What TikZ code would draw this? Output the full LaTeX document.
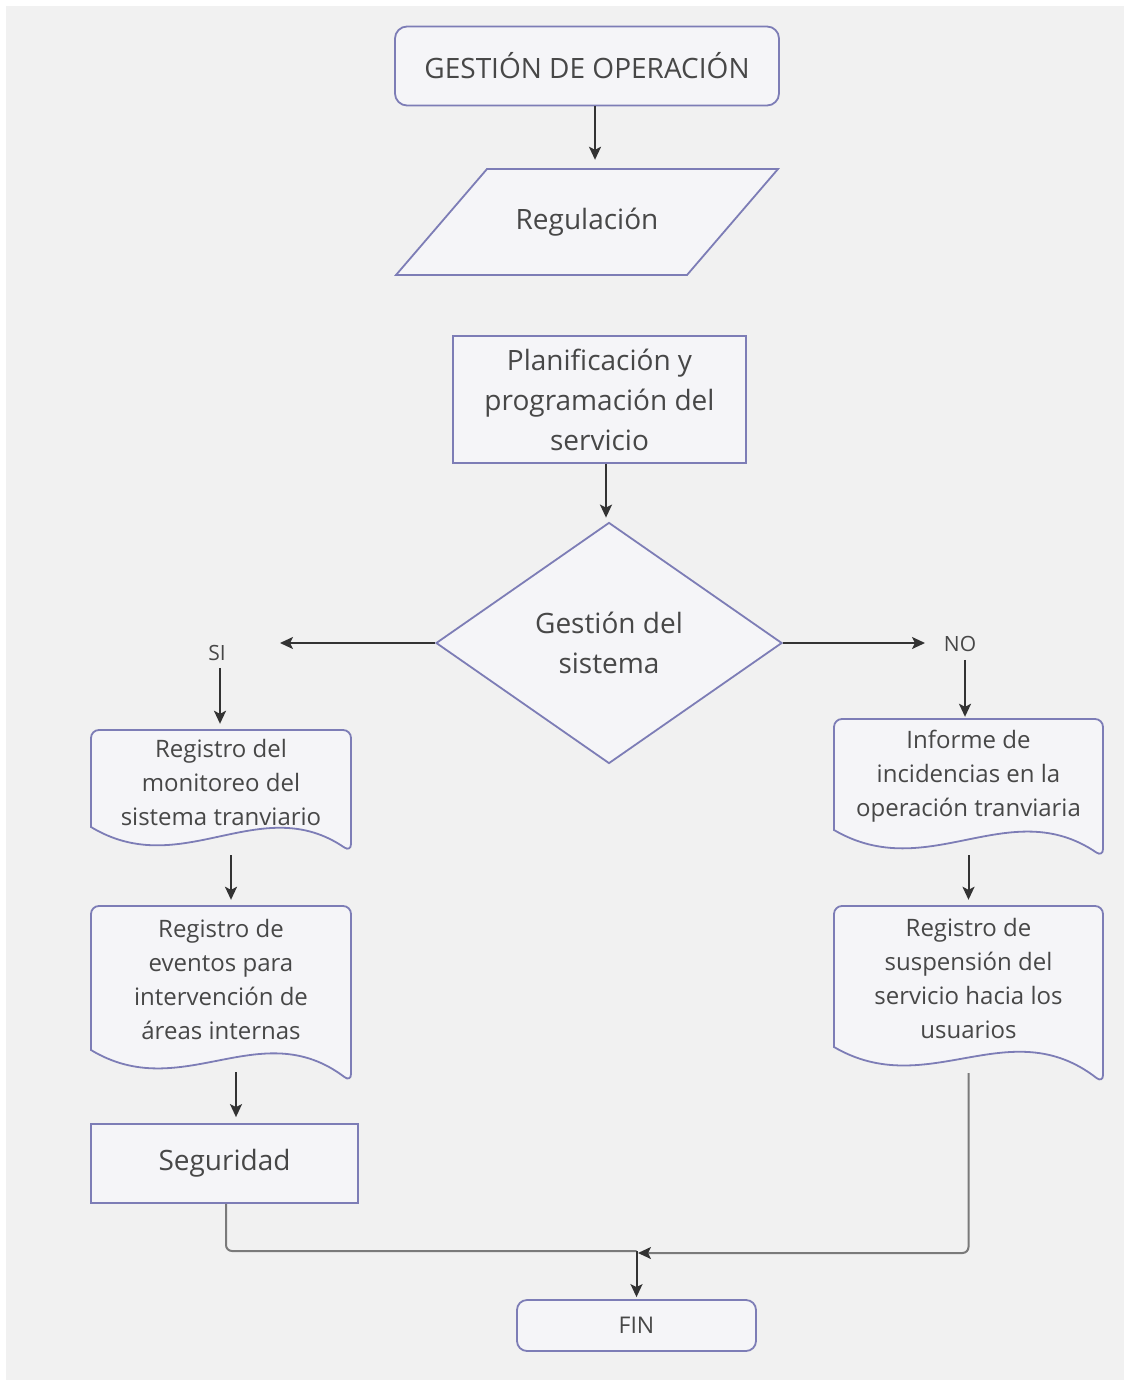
\documentclass[tikz,border=0pt]{standalone}
\usepackage{fontspec}
\setmainfont{Open Sans}
\usetikzlibrary{arrows.meta,shapes.geometric}
\definecolor{bg}{HTML}{F1F1F1}
\definecolor{edge}{RGB}{125,125,182}
\definecolor{boxfill}{HTML}{F5F5F8}
\definecolor{txt}{HTML}{474747}
\definecolor{arrowc}{HTML}{333333}
\definecolor{joinc}{HTML}{7A7A7A}
\tikzset{
  shp/.style={draw=edge, fill=boxfill, line width=1.8pt},
  bigtext/.style={text=txt, font=\fontsize{28}{40}\selectfont, align=center},
  doctext/.style={text=txt, font=\fontsize{24}{34}\selectfont, align=center, inner sep=0pt},
  lbltext/.style={text=txt, font=\fontsize{21}{25}\selectfont, inner sep=2pt},
  tip/.style={-{Stealth[length=13pt,width=12pt,inset=3pt]}},
  arr/.style={draw=arrowc, line width=2pt, tip},
  joinline/.style={draw=joinc, line width=2pt, rounded corners=6pt},
}
\newcommand{\docshape}[5]{% x0, top, x1, yLeft, yRight (pixel values, y downward)
  \draw[shp] (#1,-#4) [rounded corners=8pt] -- (#1,-#2) -- (#3,-#2) -- (#3,-#5) [sharp corners]
    .. controls ({#1+0.65*(#3-#1)},{-#4+37}) and ({#1+0.35*(#3-#1)},{-#4-55}) .. (#1,-#4) -- cycle;
}
\begin{document}
\begin{tikzpicture}[x=1pt,y=1pt]
\useasboundingbox (0,0) rectangle (1124,-1380);
\fill[white] (0,0) rectangle (1124,-1380);
\fill[bg] (6,-6) rectangle (1124,-1380);

% title
\node[shp, bigtext, rounded corners=12pt, minimum width=384pt, minimum height=79pt] (title) at (587,-66) {GESTIÓN DE OPERACIÓN};

% parallelogram
\draw[shp] (396,-275) -- (687,-275) -- (778,-169) -- (487,-169) -- cycle;
\node[bigtext, minimum width=291pt, minimum height=106pt, inner sep=0pt] (reg) at (587,-222) {Regulación};

% planning
\node[shp, bigtext, minimum width=293pt, minimum height=127pt] (plan) at (599.5,-399.5) {Planificación y\\programación del\\servicio};

% decision
\node[shp, bigtext, diamond, minimum width=346pt, minimum height=241pt, inner sep=0pt] (dia) at (609,-643) {Gestión del\\sistema};

% labels
\node[lbltext] (si) at (217,-653) {SI};
\node[lbltext] (no) at (960,-644) {NO};
\coordinate (siarr) at (280,-643);
\coordinate (noarr) at (925,-643);

% documents left
\docshape{91}{730}{351}{827}{852}
\node[doctext, minimum width=260pt, minimum height=104pt] (docl1) at (221,-782) {Registro del\\monitoreo del\\sistema tranviario};
\docshape{91}{906}{351}{1050}{1082}
\node[doctext, minimum width=260pt, minimum height=147pt] (docl2) at (221,-979.5) {Registro de\\eventos para\\intervención de\\áreas internas};

% documents right
\docshape{834}{719}{1103}{830}{857}
\node[doctext, minimum width=269pt, minimum height=114pt] (docr1) at (968.5,-776) {Informe de\\incidencias en la\\operación tranviaria};
\docshape{834}{906}{1103}{1047}{1083}
\node[doctext, minimum width=269pt, minimum height=145pt] (docr2) at (968.5,-978.5) {Registro de\\suspensión del\\servicio hacia los\\usuarios};

% seguridad
\node[shp, bigtext, minimum width=267pt, minimum height=79pt] (seg) at (224.5,-1163.5) {Seguridad};

% fin
\node[shp, text=txt, font=\fontsize{23}{28}\selectfont, rounded corners=10pt, minimum width=239pt, minimum height=51pt] (fin) at (636.5,-1325.5) {FIN};

% arrows
\draw[arr, shorten >=9pt] ([xshift=8pt]title.south) -- ([xshift=8pt]title.south |- reg.north);
\draw[arr, shorten >=4pt] ([xshift=6.5pt]plan.south) -- ([xshift=6.5pt]plan.south |- dia.north);
\draw[arr] (dia.west) -- (siarr);
\draw[arr] (dia.east) -- (noarr);
\draw[arr, shorten <=5pt, shorten >=6pt] ([xshift=3pt]si.south) -- ([xshift=3pt]si.south |- docl1.north);
\draw[arr, shorten <=6pt, shorten >=2pt] ([xshift=5pt]no.south) -- ([xshift=5pt]no.south |- docr1.north);
\draw[arr, shorten <=21pt, shorten >=6pt] ([xshift=10pt]docl1.south) -- ([xshift=10pt]docl1.south |- docl2.north);
\draw[arr, shorten <=19pt, shorten >=6pt] ([xshift=15pt]docl2.south) -- ([xshift=15pt]docl2.south |- seg.north);
\draw[arr, shorten <=22pt, shorten >=6pt] (docr1.south) -- (docr1.south |- docr2.north);

% joins
\coordinate (jr) at (638,-1253);
\coordinate (jl) at (636.5,-1251);
\draw[joinline, -{Stealth[length=13pt,width=12pt,inset=3pt,color=arrowc]}] ([yshift=-22pt]docr2.south) |- (jr);
\draw[joinline] ([xshift=1.5pt]seg.south) |- (jl);
\draw[arr, shorten >=2pt] (jl) -- (fin.north);
\end{tikzpicture}
\end{document}
